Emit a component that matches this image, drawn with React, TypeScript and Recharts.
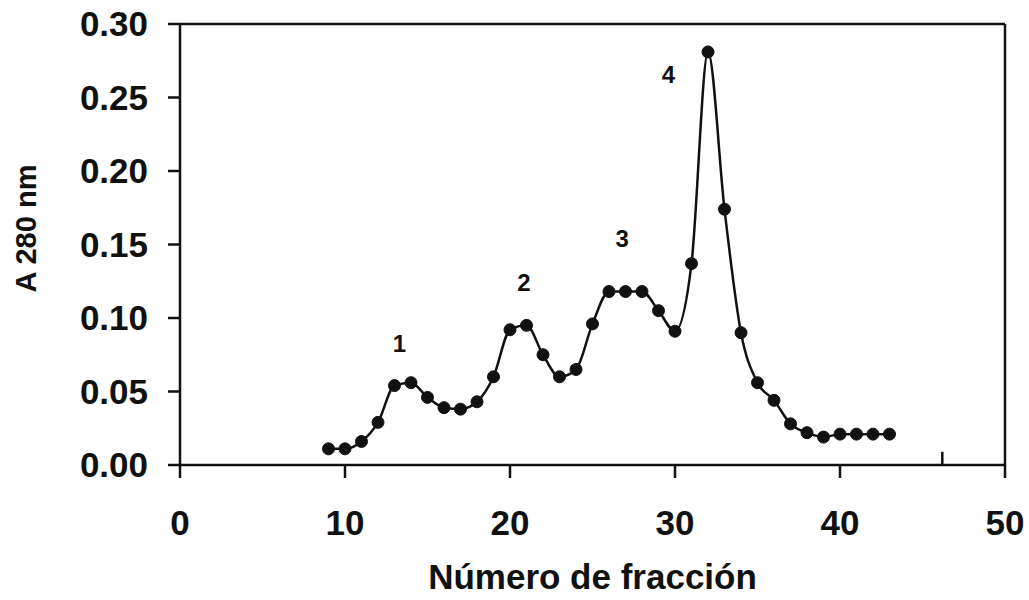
import {
	LineChart,
	Line,
	XAxis,
	YAxis,
	ReferenceLine,
	ReferenceDot,
} from "recharts";

// fraction number vs absorbance at 280 nm
const fractions = [
	9, 10, 11, 12, 13, 14, 15, 16, 17, 18, 19, 20, 21, 22, 23, 24, 25, 26, 27, 28, 29, 30, 31, 32, 33, 34, 35, 36, 37,
	38, 39, 40, 41, 42, 43,
];
const absorbance = [
	0.011, 0.011, 0.016, 0.029, 0.054, 0.056, 0.046, 0.039, 0.038, 0.043, 0.06, 0.092, 0.095, 0.075, 0.06, 0.065,
	0.096, 0.118, 0.118, 0.118, 0.105, 0.091, 0.137, 0.281, 0.174, 0.09, 0.056, 0.044, 0.028, 0.022, 0.019, 0.021,
	0.021, 0.021, 0.021,
];

const xTicks = [0, 10, 20, 30, 40, 50];
const yTicks = [0, 0.05, 0.1, 0.15, 0.2, 0.25, 0.3];

// peak numbers written above the curve
const peakNames = ["1", "2", "3", "4"];
const peakX = [13.3, 20.85, 26.8, 29.6];
const peakY = [0.083, 0.124, 0.154, 0.266];

const data = fractions.map((f, i) => ({ f, a: absorbance[i] }));

const font = "'Liberation Sans', Arial, sans-serif";
const ink = "#111";

export default function App() {
	return (
		<div style={{ position: "absolute", left: 0, top: 0, width: 1029, height: 600, background: "#fff" }}>
			<LineChart width={1029} height={600} data={data} margin={{ top: 24, right: 24, bottom: 0, left: 0 }}>
				<XAxis
					dataKey="f"
					type="number"
					domain={[0, 50]}
					ticks={xTicks}
					interval={0}
					height={135}
					stroke={ink}
					strokeWidth={2.5}
					tickSize={13}
					tickMargin={32}
					tick={{ fill: ink, fontSize: 35, fontWeight: 700, fontFamily: font }}
					tickLine={{ stroke: ink, strokeWidth: 2.5 }}
					label={{
						value: "Número de fracción",
						position: "insideBottom",
						offset: 11,
						fill: ink,
						fontSize: 35,
						fontWeight: 700,
						fontFamily: font,
					}}
				/>
				<YAxis
					type="number"
					domain={[0, 0.3]}
					ticks={yTicks}
					interval={0}
					width={180}
					stroke={ink}
					strokeWidth={2.5}
					tickSize={12}
					tickMargin={20}
					tickFormatter={(v) => Number(v).toFixed(2)}
					tick={{ fill: ink, fontSize: 35, fontWeight: 700, fontFamily: font }}
					tickLine={{ stroke: ink, strokeWidth: 2.5 }}
					label={{
						value: "A 280 nm",
						angle: -90,
						position: "center",
						dx: -64,
						dy: -16,
						fill: ink,
						fontSize: 29,
						fontWeight: 700,
						fontFamily: font,
					}}
				/>
				{/* box on top and right */}
				<ReferenceLine y={0.3} stroke={ink} strokeWidth={2.5} />
				<ReferenceLine x={50} stroke={ink} strokeWidth={2.5} />
				{/* small stray tick on the axis */}
				<ReferenceLine
					segment={[
						{ x: 46.2, y: 0 },
						{ x: 46.2, y: 0.009 },
					]}
					stroke={ink}
					strokeWidth={2.5}
				/>
				{peakNames.map((name, i) => (
					<ReferenceDot
						key={name}
						x={peakX[i]}
						y={peakY[i]}
						r={0}
						stroke="none"
						label={{ value: name, position: "center", fill: ink, fontSize: 24, fontWeight: 700, fontFamily: font }}
					/>
				))}
				<Line
					type="monotone"
					dataKey="a"
					stroke={ink}
					strokeWidth={2.5}
					dot={{ r: 6, fill: ink, stroke: ink, strokeWidth: 1 }}
					isAnimationActive={false}
				/>
			</LineChart>
		</div>
	);
}
